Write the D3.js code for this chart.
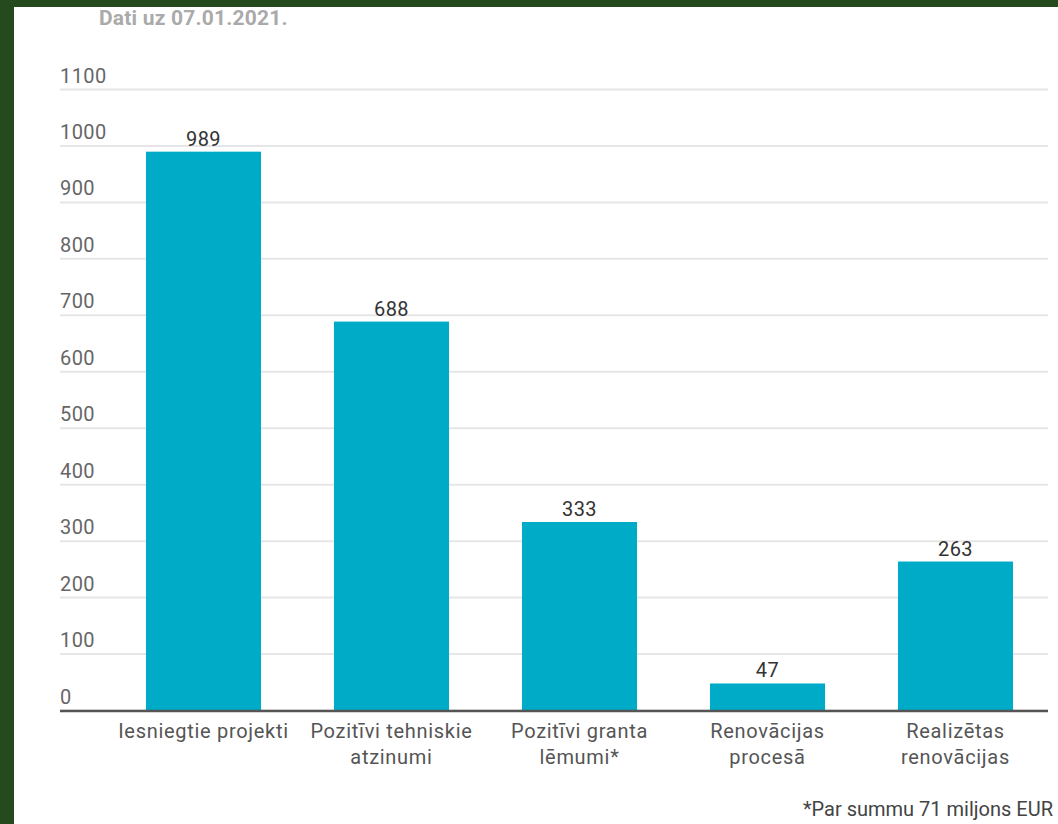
<!DOCTYPE html>
<html>
<head>
  <meta charset="utf-8">
  <script src="https://cdn.jsdelivr.net/npm/d3@7"></script>
  <style>
    body { margin: 0; background: #244a1e; }
    svg { display: block; font-family: Roboto, sans-serif; }
  </style>
</head>
<body>
  <svg width="1058" height="824" id="mainsvg"></svg>
  <script>
      // data
      const categories = [
        ['Iesniegtie projekti'],
        ['Pozitīvi tehniskie', 'atzinumi'],
        ['Pozitīvi granta', 'lēmumi*'],
        ['Renovācijas', 'procesā'],
        ['Realizētas', 'renovācijas']
      ];
      const values = [989, 688, 333, 47, 263];
      const yTicks = [0, 100, 200, 300, 400, 500, 600, 700, 800, 900, 1000, 1100];

      const svg = d3.select('svg');
      // white panel inside the green frame
      svg.append('rect').attr('x', 14).attr('y', 7).attr('width', 1044).attr('height', 817).attr('fill', '#ffffff');

      const gridLeft = 60, gridRight = 1048;
      const yScale = d3.scaleLinear().domain([0, 1100]).range([710, 89]);
      const xScale = d3.scaleBand().domain(d3.range(values.length))
        .range([109.5, 1049.5]).paddingInner(0.388).paddingOuter(0.194);

      // grid lines + tick labels
      const yAxis = d3.axisLeft(yScale).tickValues(yTicks).tickSize(-(gridRight - gridLeft)).tickFormat(d3.format('d'));
      const yAxisGroup = svg.append('g').attr('transform', `translate(${gridLeft}, 0)`).call(yAxis);
      yAxisGroup.select('.domain').remove();
      yAxisGroup.selectAll('.tick line').attr('stroke', '#e6e6e6').attr('stroke-width', 2);
      yAxisGroup.selectAll('.tick text')
        .attr('x', 0).attr('y', -7).attr('dy', 0).attr('text-anchor', 'start')
        .attr('font-size', '20px').attr('letter-spacing', '0.4px')
        .attr('fill', '#666').attr('font-family', 'Roboto, sans-serif');

      // bars
      svg.selectAll('.bar').data(values).join('rect').attr('class', 'bar')
        .attr('x', (d, i) => xScale(i)).attr('width', xScale.bandwidth())
        .attr('y', d => yScale(d)).attr('height', d => yScale(0) - yScale(d))
        .attr('fill', '#00abc8');

      // zero line
      svg.append('line').attr('x1', gridLeft).attr('x2', gridRight)
        .attr('y1', yScale(0) + 1).attr('y2', yScale(0) + 1)
        .attr('stroke', '#555').attr('stroke-width', 2.5);

      // value labels
      svg.selectAll('.val').data(values).join('text').attr('class', 'val')
        .attr('x', (d, i) => xScale(i) + xScale.bandwidth() / 2)
        .attr('y', d => yScale(d) - 6)
        .attr('text-anchor', 'middle').attr('font-size', '20px').attr('letter-spacing', '0.4px')
        .attr('fill', '#333').text(d => d);

      // category labels
      const catGroups = svg.selectAll('.cat').data(categories).join('text').attr('class', 'cat')
        .attr('x', (d, i) => xScale(i) + xScale.bandwidth() / 2)
        .attr('y', 738)
        .attr('text-anchor', 'middle').attr('font-size', '20px').attr('letter-spacing', '0.7px')
        .attr('fill', '#555');
      catGroups.selectAll('tspan').data(d => d).join('tspan')
        .attr('x', function () { return this.parentNode.getAttribute('x'); })
        .attr('dy', (d, i) => i === 0 ? 0 : 26).text(d => d);

      // title + footnote
      svg.append('text').attr('x', 99).attr('y', 25).attr('font-size', '21px').attr('font-weight', 700)
        .attr('letter-spacing', '0.2px').attr('fill', '#aaa').text('Dati uz 07.01.2021.');
      svg.append('text').attr('x', 1053).attr('y', 816).attr('text-anchor', 'end').attr('font-size', '20px')
        .attr('fill', '#444').text('*Par summu 71 miljons EUR');
  </script>
</body>
</html>
